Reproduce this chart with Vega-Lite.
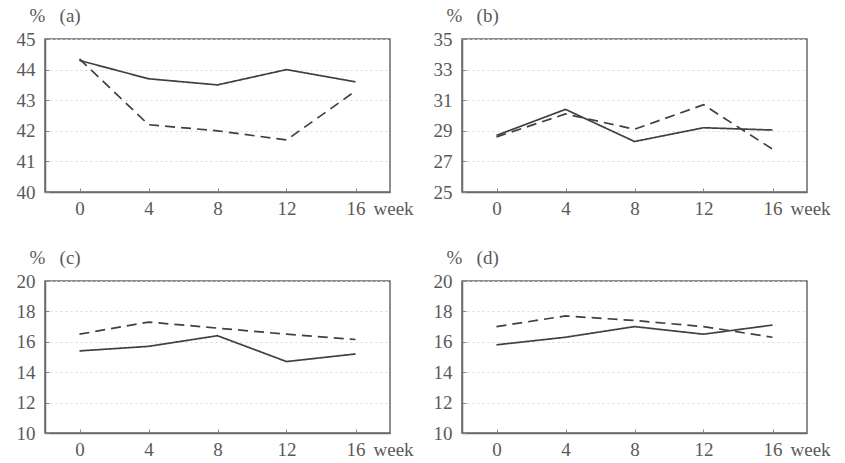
{
  "$schema": "https://vega.github.io/schema/vega-lite/v6.json",
  "padding": {"left": 15, "top": 5, "right": 5, "bottom": 5},
  "background": "white",
  "datasets": {
    "d": [
      {"panel": "a", "series": "solid", "week": 0, "value": 44.3},
      {"panel": "a", "series": "solid", "week": 4, "value": 43.7},
      {"panel": "a", "series": "solid", "week": 8, "value": 43.5},
      {"panel": "a", "series": "solid", "week": 12, "value": 44.0},
      {"panel": "a", "series": "solid", "week": 16, "value": 43.6},
      {"panel": "a", "series": "dashed", "week": 0, "value": 44.35},
      {"panel": "a", "series": "dashed", "week": 4, "value": 42.2},
      {"panel": "a", "series": "dashed", "week": 8, "value": 42.0},
      {"panel": "a", "series": "dashed", "week": 12, "value": 41.7},
      {"panel": "a", "series": "dashed", "week": 16, "value": 43.3},
      {"panel": "b", "series": "solid", "week": 0, "value": 28.7},
      {"panel": "b", "series": "solid", "week": 4, "value": 30.4},
      {"panel": "b", "series": "solid", "week": 8, "value": 28.3},
      {"panel": "b", "series": "solid", "week": 12, "value": 29.2},
      {"panel": "b", "series": "solid", "week": 16, "value": 29.05},
      {"panel": "b", "series": "dashed", "week": 0, "value": 28.6},
      {"panel": "b", "series": "dashed", "week": 4, "value": 30.1},
      {"panel": "b", "series": "dashed", "week": 8, "value": 29.1},
      {"panel": "b", "series": "dashed", "week": 12, "value": 30.7},
      {"panel": "b", "series": "dashed", "week": 16, "value": 27.8},
      {"panel": "c", "series": "solid", "week": 0, "value": 15.4},
      {"panel": "c", "series": "solid", "week": 4, "value": 15.7},
      {"panel": "c", "series": "solid", "week": 8, "value": 16.4},
      {"panel": "c", "series": "solid", "week": 12, "value": 14.7},
      {"panel": "c", "series": "solid", "week": 16, "value": 15.2},
      {"panel": "c", "series": "dashed", "week": 0, "value": 16.5},
      {"panel": "c", "series": "dashed", "week": 4, "value": 17.3},
      {"panel": "c", "series": "dashed", "week": 8, "value": 16.9},
      {"panel": "c", "series": "dashed", "week": 12, "value": 16.5},
      {"panel": "c", "series": "dashed", "week": 16, "value": 16.15},
      {"panel": "d", "series": "solid", "week": 0, "value": 15.8},
      {"panel": "d", "series": "solid", "week": 4, "value": 16.3},
      {"panel": "d", "series": "solid", "week": 8, "value": 17.0},
      {"panel": "d", "series": "solid", "week": 12, "value": 16.5},
      {"panel": "d", "series": "solid", "week": 16, "value": 17.1},
      {"panel": "d", "series": "dashed", "week": 0, "value": 17.0},
      {"panel": "d", "series": "dashed", "week": 4, "value": 17.7},
      {"panel": "d", "series": "dashed", "week": 8, "value": 17.4},
      {"panel": "d", "series": "dashed", "week": 12, "value": 17.0},
      {"panel": "d", "series": "dashed", "week": 16, "value": 16.3}
    ]
  },
  "columns": 2,
  "bounds": "flush",
  "spacing": {"row": 89, "column": 72},
  "concat": [
    {
      "width": 345, "height": 153,
      "data": {"name": "d"},
      "transform": [{"filter": "datum.panel === 'a'"}],
      "mark": {"type": "line", "strokeWidth": 1.7, "color": "#404040"},
      "encoding": {
        "x": {"field": "week", "type": "quantitative", "scale": {"domain": [-2, 18]}, "axis": {"values": [0, 4, 8, 12, 16], "title": "week", "titleX": 328, "titleY": 22, "titleAlign": "left", "titleBaseline": "alphabetic"}},
        "y": {"field": "value", "type": "quantitative", "scale": {"domain": [40, 45], "nice": false, "zero": false}, "axis": {"values": [40, 41, 42, 43, 44, 45], "title": "%\u00a0\u00a0\u00a0(a)", "titleX": -16, "titleY": -18}},
        "strokeDash": {"field": "series", "type": "nominal", "scale": {"domain": ["solid", "dashed"], "range": [[1, 0], [10, 6]]}, "legend": null}
      }
    },
    {
      "width": 345, "height": 153,
      "data": {"name": "d"},
      "transform": [{"filter": "datum.panel === 'b'"}],
      "mark": {"type": "line", "strokeWidth": 1.7, "color": "#404040"},
      "encoding": {
        "x": {"field": "week", "type": "quantitative", "scale": {"domain": [-2, 18]}, "axis": {"values": [0, 4, 8, 12, 16], "title": "week", "titleX": 328, "titleY": 22, "titleAlign": "left", "titleBaseline": "alphabetic"}},
        "y": {"field": "value", "type": "quantitative", "scale": {"domain": [25, 35], "nice": false, "zero": false}, "axis": {"values": [25, 27, 29, 31, 33, 35], "title": "%\u00a0\u00a0\u00a0(b)", "titleX": -16, "titleY": -18}},
        "strokeDash": {"field": "series", "type": "nominal", "scale": {"domain": ["solid", "dashed"], "range": [[1, 0], [10, 6]]}, "legend": null}
      }
    },
    {
      "width": 345, "height": 152,
      "data": {"name": "d"},
      "transform": [{"filter": "datum.panel === 'c'"}],
      "mark": {"type": "line", "strokeWidth": 1.7, "color": "#404040"},
      "encoding": {
        "x": {"field": "week", "type": "quantitative", "scale": {"domain": [-2, 18]}, "axis": {"values": [0, 4, 8, 12, 16], "title": "week", "titleX": 328, "titleY": 22, "titleAlign": "left", "titleBaseline": "alphabetic"}},
        "y": {"field": "value", "type": "quantitative", "scale": {"domain": [10, 20], "nice": false, "zero": false}, "axis": {"values": [10, 12, 14, 16, 18, 20], "title": "%\u00a0\u00a0\u00a0(c)", "titleX": -16, "titleY": -18}},
        "strokeDash": {"field": "series", "type": "nominal", "scale": {"domain": ["solid", "dashed"], "range": [[1, 0], [10, 6]]}, "legend": null}
      }
    },
    {
      "width": 345, "height": 152,
      "data": {"name": "d"},
      "transform": [{"filter": "datum.panel === 'd'"}],
      "mark": {"type": "line", "strokeWidth": 1.7, "color": "#404040"},
      "encoding": {
        "x": {"field": "week", "type": "quantitative", "scale": {"domain": [-2, 18]}, "axis": {"values": [0, 4, 8, 12, 16], "title": "week", "titleX": 328, "titleY": 22, "titleAlign": "left", "titleBaseline": "alphabetic"}},
        "y": {"field": "value", "type": "quantitative", "scale": {"domain": [10, 20], "nice": false, "zero": false}, "axis": {"values": [10, 12, 14, 16, 18, 20], "title": "%\u00a0\u00a0\u00a0(d)", "titleX": -16, "titleY": -18}},
        "strokeDash": {"field": "series", "type": "nominal", "scale": {"domain": ["solid", "dashed"], "range": [[1, 0], [10, 6]]}, "legend": null}
      }
    }
  ],
  "config": {
    "font": "Liberation Serif",
    "view": {"stroke": "#6a6a6a", "strokeWidth": 1.5},
    "axis": {
      "labelFont": "Liberation Serif",
      "labelFontSize": 19,
      "labelColor": "#5a5a5a",
      "titleFont": "Liberation Serif",
      "titleFontSize": 19,
      "titleFontWeight": "normal",
      "titleColor": "#5a5a5a",
      "domainColor": "#6a6a6a",
      "domainWidth": 1.5,
      "tickColor": "#888888",
      "tickSize": -4,
      "grid": true,
      "gridColor": "#dadada",
      "gridDash": [2, 3],
      "gridWidth": 1
    },
    "axisX": {"labelPadding": 26, "labelBaseline": "alphabetic", "grid": false},
    "axisY": {"labelPadding": 14, "titleAngle": 0, "titleAlign": "left", "titleBaseline": "alphabetic"}
  }
}
